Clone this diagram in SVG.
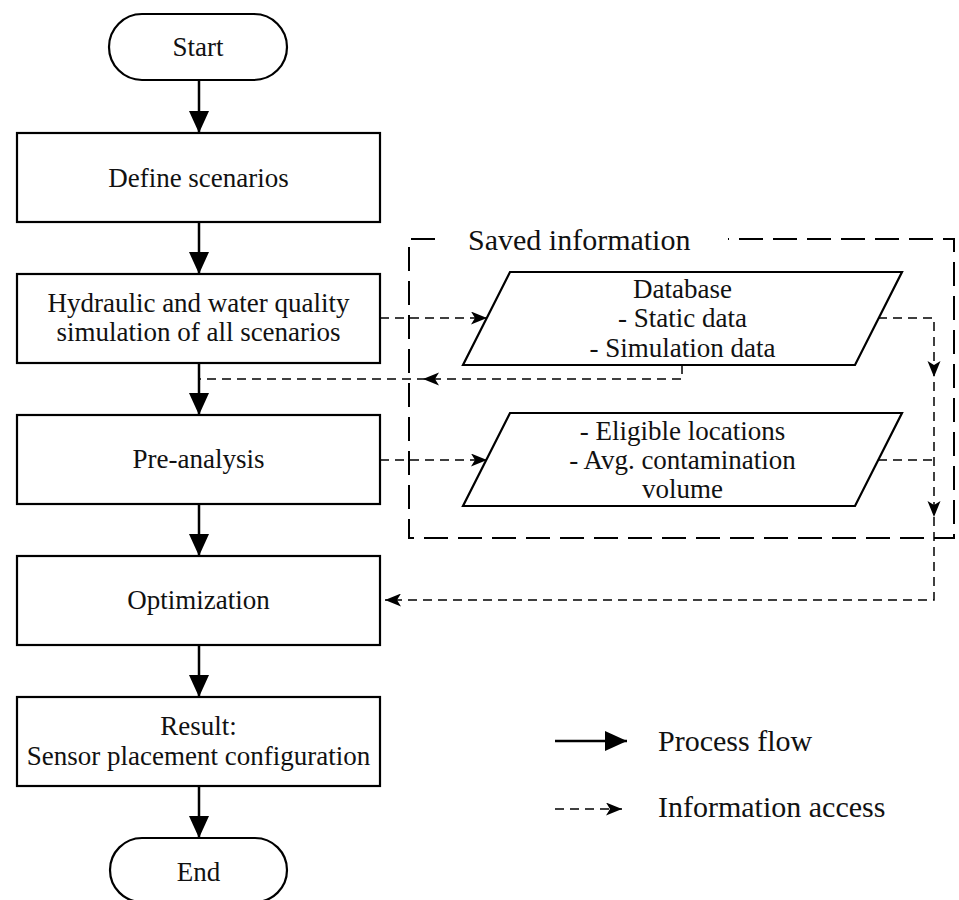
<svg xmlns="http://www.w3.org/2000/svg" width="959" height="900" viewBox="0 0 959 900">
<style>
  .box{fill:#fff;stroke:#000;stroke-width:2.2}
  .t{font-family:"Liberation Serif","Times New Roman",serif;font-size:27px;fill:#111;text-anchor:middle}
  .tl{font-family:"Liberation Serif","Times New Roman",serif;font-size:30px;fill:#111}
  .flow{fill:none;stroke:#000;stroke-width:2.5}
  .info{fill:none;stroke:#000;stroke-width:1.5;stroke-dasharray:9 6}
  .group{fill:none;stroke:#000;stroke-width:2;stroke-dasharray:24 10}
</style>
<defs>
  <marker id="big" markerWidth="22" markerHeight="20" refX="22" refY="10" orient="auto" markerUnits="userSpaceOnUse">
    <path d="M0,0 L22,10 L0,20 Z" fill="#000"/>
  </marker>
  <marker id="small" markerWidth="16" markerHeight="13" refX="16" refY="6.5" orient="auto" markerUnits="userSpaceOnUse">
    <path d="M0,0 L16,6.5 L0,13 L4,6.5 Z" fill="#000"/>
  </marker>
  <path id="sh" d="M-16,-6.5 L0,0 L-16,6.5 L-12,0 Z"/>
</defs>

<g id="saved-information">
  <path class="group" d="M435,239 L409,239 L409,538 L954,538 L954,239 L728,239"/>
  <text class="tl" x="468" y="250">Saved information</text>
</g>

<g id="connectors">
  <line class="flow" x1="199" y1="80" x2="199" y2="133" marker-end="url(#big)"/>
  <line class="flow" x1="199" y1="222" x2="199" y2="274" marker-end="url(#big)"/>
  <line class="flow" x1="199" y1="363" x2="199" y2="415" marker-end="url(#big)"/>
  <line class="flow" x1="199" y1="504" x2="199" y2="556" marker-end="url(#big)"/>
  <line class="flow" x1="199" y1="645" x2="199" y2="697" marker-end="url(#big)"/>
  <line class="flow" x1="199" y1="786" x2="199" y2="838" marker-end="url(#big)"/>

  <line class="info" x1="380" y1="318" x2="487" y2="318" marker-end="url(#small)"/>
  <line class="info" x1="380" y1="460" x2="487" y2="460" marker-end="url(#small)"/>
  <path class="info" d="M682,365 L682,379 L199,379"/>
  <use href="#sh" transform="translate(423,379) rotate(180)"/>
  <path class="info" d="M878,318 L934,318 L934,600 L385,600" marker-end="url(#small)"/>
  <line class="info" x1="878" y1="460" x2="934" y2="460"/>
  <use href="#sh" transform="translate(934,377) rotate(90)"/>
  <use href="#sh" transform="translate(934,517) rotate(90)"/>
</g>

<g id="start">
  <rect class="box" x="109" y="14" width="178" height="66" rx="33"/>
  <text class="t" x="198" y="56">Start</text>
</g>
<g id="define-scenarios">
  <rect class="box" x="17" y="133" width="363" height="89"/>
  <text class="t" x="198.5" y="187">Define scenarios</text>
</g>
<g id="simulation">
  <rect class="box" x="17" y="274" width="363" height="89"/>
  <text class="t" x="198.5" y="312">Hydraulic and water quality</text>
  <text class="t" x="198.5" y="341">simulation of all scenarios</text>
</g>
<g id="pre-analysis">
  <rect class="box" x="17" y="415" width="363" height="89"/>
  <text class="t" x="198.5" y="468">Pre-analysis</text>
</g>
<g id="optimization">
  <rect class="box" x="17" y="556" width="363" height="89"/>
  <text class="t" x="198.5" y="609">Optimization</text>
</g>
<g id="result">
  <rect class="box" x="17" y="697" width="363" height="89"/>
  <text class="t" x="198.5" y="735">Result:</text>
  <text class="t" x="198.5" y="765">Sensor placement configuration</text>
</g>
<g id="end">
  <rect class="box" x="110" y="838" width="177" height="64" rx="32"/>
  <text class="t" x="198.5" y="881">End</text>
</g>

<g id="database">
  <polygon class="box" points="510,272 902,272 855,365 463,365"/>
  <text class="t" x="682.5" y="298">Database</text>
  <text class="t" x="682.5" y="327">- Static data</text>
  <text class="t" x="682.5" y="357">- Simulation data</text>
</g>
<g id="pre-analysis-data">
  <polygon class="box" points="510,413 902,413 855,506 463,506"/>
  <text class="t" x="682.5" y="440">- Eligible locations</text>
  <text class="t" x="682.5" y="469">- Avg. contamination</text>
  <text class="t" x="682.5" y="498">volume</text>
</g>

<g id="legend">
  <line class="flow" x1="555" y1="741" x2="627" y2="741" marker-end="url(#big)"/>
  <text class="tl" x="658" y="751">Process flow</text>
  <line class="info" x1="555" y1="809" x2="622" y2="809" marker-end="url(#small)"/>
  <text class="tl" x="658" y="817">Information access</text>
</g>
</svg>
